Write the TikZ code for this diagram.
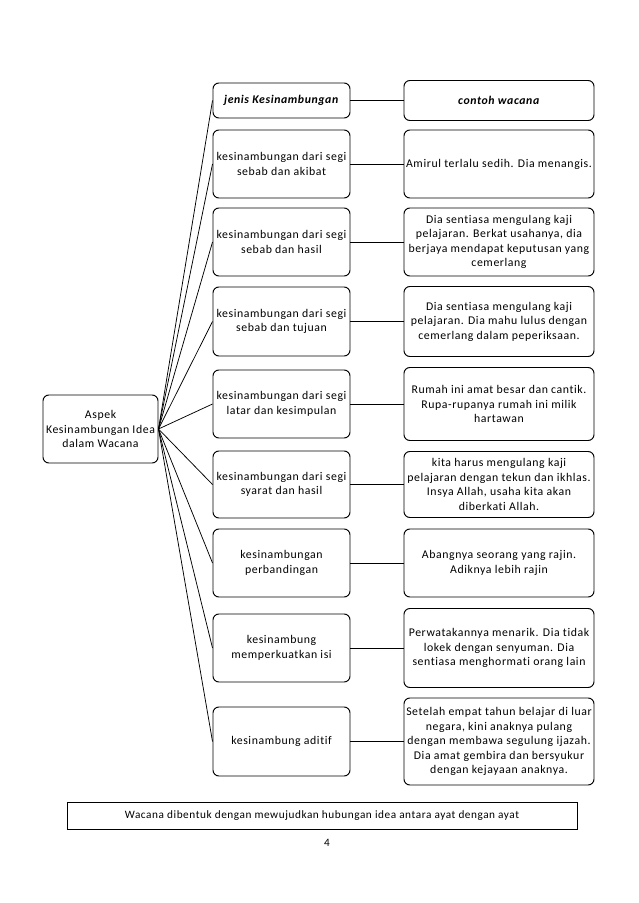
\documentclass[tikz,border=0pt]{standalone}
\usepackage{fontspec}
\setmainfont{Carlito}[LetterSpace=5,Ligatures=NoCommon]
\begin{document}
\begin{tikzpicture}[x=0.9326pt,y=-0.9326pt,
  box/.style 2 args={draw=black, line width=0.9pt, rounded corners=5.5pt, align=center,
    minimum width=#1*0.9326pt, minimum height=#2*0.9326pt, inner sep=1pt,
    font=\fontsize{11}{13.5}\selectfont},
  link/.style={draw=black, line width=0.7pt}]
\useasboundingbox (0,0) rectangle (638,903);
\fill[white] (0,0) rectangle (638,903);

\node[box={115}{68}] (aspek) at (100.5,429) {Aspek\\Kesinambungan Idea\\dalam Wacana};

\node[box={137}{35}] (m1) at (281.5,100.5) {\textbf{\textit{jenis Kesinambungan}}};
\node[box={137}{68}] (m2) at (281.5,164) {kesinambungan dari segi\\sebab dan akibat};
\node[box={137}{68}] (m3) at (281.5,242) {kesinambungan dari segi\\sebab dan hasil};
\node[box={137}{69}] (m4) at (281.5,321.5) {kesinambungan dari segi\\sebab dan tujuan};
\node[box={137}{68}] (m5) at (281.5,404) {kesinambungan dari segi\\latar dan kesimpulan};
\node[box={137}{67}] (m6) at (281.5,484.5) {kesinambungan dari segi\\syarat dan hasil};
\node[box={137}{68}] (m7) at (281.5,563) {kesinambungan\\perbandingan};
\node[box={137}{68}] (m8) at (281.5,648) {kesinambung\\memperkuatkan isi};
\node[box={137}{69}] (m9) at (281.5,741.5) {kesinambung aditif};

\node[box={190}{40}] (r1) at (499,100.5) {\textbf{\textit{contoh wacana}}};
\node[box={190}{68}] (r2) at (499,164) {Amirul terlalu sedih. Dia menangis.};
\node[box={190}{68}] (r3) at (499,242) {Dia sentiasa mengulang kaji\\pelajaran. Berkat usahanya, dia\\berjaya mendapat keputusan yang\\cemerlang};
\node[box={190}{70}] (r4) at (499,321.5) {Dia sentiasa mengulang kaji\\pelajaran. Dia mahu lulus dengan\\cemerlang dalam peperiksaan.};
\node[box={190}{73}] (r5) at (499,404) {Rumah ini amat besar dan cantik.\\Rupa-rupanya rumah ini milik\\hartawan};
\node[box={190}{66}] (r6) at (499,484.5) {kita harus mengulang kaji\\pelajaran dengan tekun dan ikhlas.\\Insya Allah, usaha kita akan\\diberkati Allah.};
\node[box={190}{68}] (r7) at (499,563) {Abangnya seorang yang rajin.\\Adiknya lebih rajin};
\node[box={190}{79}] (r8) at (499,648) {Perwatakannya menarik. Dia tidak\\lokek dengan senyuman. Dia\\sentiasa menghormati orang lain};
\node[box={190}{87}] (r9) at (499,741.5) {Setelah empat tahun belajar di luar\\negara, kini anaknya pulang\\dengan membawa segulung ijazah.\\Dia amat gembira dan bersyukur\\dengan kejayaan anaknya.};

\foreach \i in {1,...,9} {
  \draw[link] (aspek.east) -- (m\i.west);
  \draw[link] (m\i.east) -- (r\i.west);
}

\node[draw=black, line width=0.9pt, minimum width=510*0.9326pt, minimum height=27*0.9326pt,
  font=\fontsize{10.5}{12.5}\selectfont] (note) at (322,815.5)
  {Wacana dibentuk dengan mewujudkan hubungan idea antara ayat dengan ayat};
\node[font=\fontsize{10.5}{12.5}\selectfont] (pg) at (327,843) {4};
\end{tikzpicture}
\end{document}
